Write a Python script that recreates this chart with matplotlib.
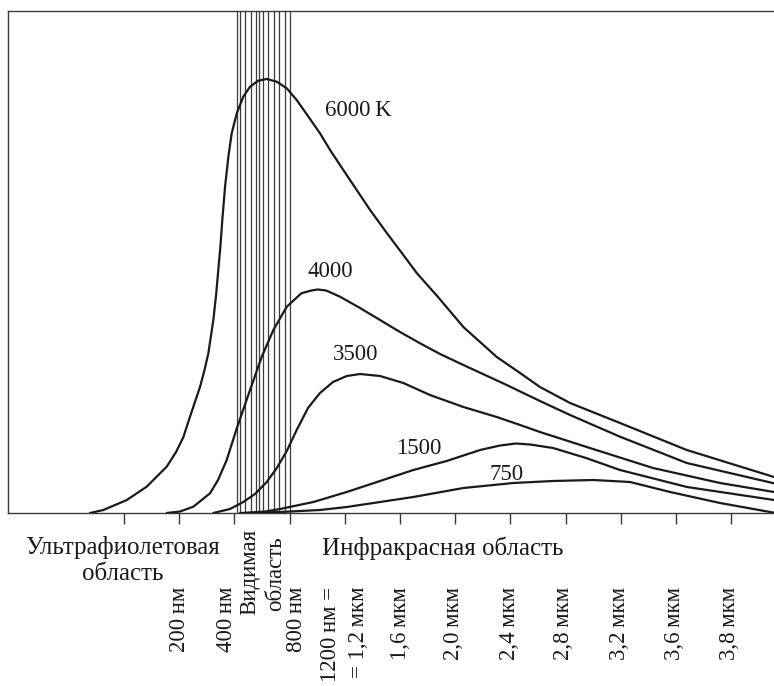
import numpy as np
import matplotlib
matplotlib.use('Agg')
import matplotlib.pyplot as plt

# длина волны (шкала рисунка, мкм) и интенсивность (усл. ед.)
lam_6000 = [-0.646, -0.550, -0.380, -0.236, -0.091, -0.023, 0.030, 0.078, 0.151, 0.183,
            0.211, 0.247, 0.267, 0.283, 0.299, 0.312, 0.332, 0.356, 0.380, 0.417,
            0.464, 0.513, 0.573, 0.634, 0.707, 0.779, 0.851, 0.936, 1.020, 1.093,
            1.189, 1.286, 1.383, 1.504, 1.624, 1.721, 1.875, 2.059, 2.301, 2.470,
            2.614, 2.832, 3.194, 3.678, 4.310]
i_6000 = [0, 3, 13, 26.3, 46.3, 61, 76, 96.3, 126.3, 143,
          159.7, 193, 218, 243, 268, 293, 326.3, 356.3, 379.7, 399.7,
          416.3, 426.3, 432.3, 434, 431.3, 424.7, 413, 396.3, 379.7, 363,
          343, 323, 303, 280, 258, 240, 216, 186, 156, 140,
          126, 110, 90, 63, 36]

lam_4000 = [-0.091, 0.006, 0.102, 0.223, 0.281, 0.344, 0.417, 0.513, 0.598, 0.682,
            0.779, 0.885, 0.957, 1.006, 1.064, 1.165, 1.310, 1.455, 1.600, 1.745,
            1.890, 2.059, 2.216, 2.373, 2.614, 2.832, 3.194, 3.678, 4.310]
i_4000 = [0, 1.5, 6.3, 19.7, 33, 53, 84.7, 123, 156.3, 183,
          206.3, 219.7, 222.5, 223.5, 222.5, 216.3, 205, 193, 181, 169.7,
          159, 148, 138, 128, 112, 98, 76.3, 50, 29.7]

lam_3500 = [0.247, 0.368, 0.464, 0.549, 0.634, 0.707, 0.779, 0.851, 0.933, 1.020,
            1.114, 1.214, 1.310, 1.455, 1.624, 1.817, 2.059, 2.301, 2.470, 2.614,
            2.953, 3.433, 3.919, 4.310]
i_3500 = [0, 4, 11, 19, 31, 45, 62, 83, 105, 120,
          131, 137, 139, 137, 130, 118, 106, 96, 88, 81,
          66, 45, 30, 21]

lam_1500 = [0.477, 0.622, 0.730, 0.972, 1.214, 1.455, 1.696, 1.938, 2.180, 2.325,
            2.441, 2.542, 2.709, 2.948, 3.194, 3.680, 4.310]
i_1500 = [0, 1.5, 4, 11, 21, 32, 43, 52, 63, 67.5,
          69.5, 68.5, 65, 55, 43, 26, 13]

lam_750 = [0.440, 0.730, 1.020, 1.214, 1.455, 1.696, 2.059, 2.421, 2.709, 2.999,
           3.267, 3.557, 3.919, 4.310]
i_750 = [0, 1, 3, 6, 11, 16, 25, 30, 32, 33,
         31, 21, 10, 0.3]

# линии видимой области
visible_lines = [0.42, 0.44, 0.48, 0.52, 0.555, 0.575, 0.61, 0.645, 0.685, 0.725, 0.765, 0.80]

# подписи кривых
curve_labels = ['6000\u2009K', '4000', '3500', '1500', '750']
curve_label_x = [1.296, 1.093, 1.281, 1.738, 2.375]
curve_label_y = [402, 241, 158, 64, 39]

# деления оси
tick_pos = [-0.4, 0.0, 0.4, 0.8, 1.2, 1.6, 2.0, 2.4, 2.8, 3.2, 3.6, 4.0]
tick_texts = ['200\u2009нм', '400\u2009нм', '800\u2009нм', '1200\u2009нм =', '= 1,2\u2009мкм',
              '1,6\u2009мкм', '2,0\u2009мкм', '2,4\u2009мкм', '2,8\u2009мкм', '3,2\u2009мкм',
              '3,6\u2009мкм', '3,8\u2009мкм']
tick_text_x = [0.0, 0.343, 0.850, 1.093, 1.299, 1.600, 1.991, 2.393, 2.788, 3.187, 3.586, 3.984]

plt.rcParams['font.family'] = ['Liberation Serif', 'DejaVu Serif']
plt.rcParams['font.size'] = 16.5

W, H = 774, 686
fig = plt.figure(figsize=(W / 100, H / 100), dpi=100)
ax = fig.add_axes([8 / W, 173 / H, 766 / W, 502 / H])

frame_col = '#3a3a3a'
curve_col = '#1a1a1a'

for xv in visible_lines:
    ax.axvline(xv, color=frame_col, linewidth=0.9, zorder=1)

for lam, ii in [(lam_6000, i_6000), (lam_4000, i_4000), (lam_3500, i_3500),
                (lam_1500, i_1500), (lam_750, i_750)]:
    ax.plot(lam, ii, color=curve_col, linewidth=1.6, solid_joinstyle='round',
            solid_capstyle='round', zorder=3)

for txt, x, y in zip(curve_labels, curve_label_x, curve_label_y):
    ax.text(x, y, txt, ha='center', va='center', color=curve_col, zorder=4)

ax.set_xlim(-1.241, 4.310)
ax.set_ylim(0, 502)

ax.spines['right'].set_visible(False)
for s in ['left', 'top', 'bottom']:
    ax.spines[s].set_color(frame_col)
    ax.spines[s].set_linewidth(1.0)
ax.set_yticks([])
ax.set_xticks(tick_pos)
ax.set_xticklabels([])
ax.tick_params(axis='x', direction='out', length=8, width=1.0, color=frame_col)

tr = ax.get_xaxis_transform()
for txt, x in zip(tick_texts, tick_text_x):
    ax.text(x, -0.1474, txt, rotation=90, ha='center', va='top', transform=tr,
            color=curve_col)

ax.text(0.513, -0.1175, 'Видимая', rotation=90, ha='center', va='center', transform=tr, color=curve_col)
ax.text(0.701, -0.1215, 'область', rotation=90, ha='center', va='center', transform=tr, color=curve_col)

ax.text(-0.407, -0.0697, 'Ультрафиолетовая', ha='center', va='center', transform=tr,
        color=curve_col, fontsize=18)
ax.text(-0.407, -0.1215, 'область', ha='center', va='center', transform=tr,
        color=curve_col, fontsize=18)
ax.text(1.912, -0.0697, 'Инфракрасная область', ha='center', va='center', transform=tr,
        color=curve_col, fontsize=18)

fig.savefig('out.png', dpi=100)
